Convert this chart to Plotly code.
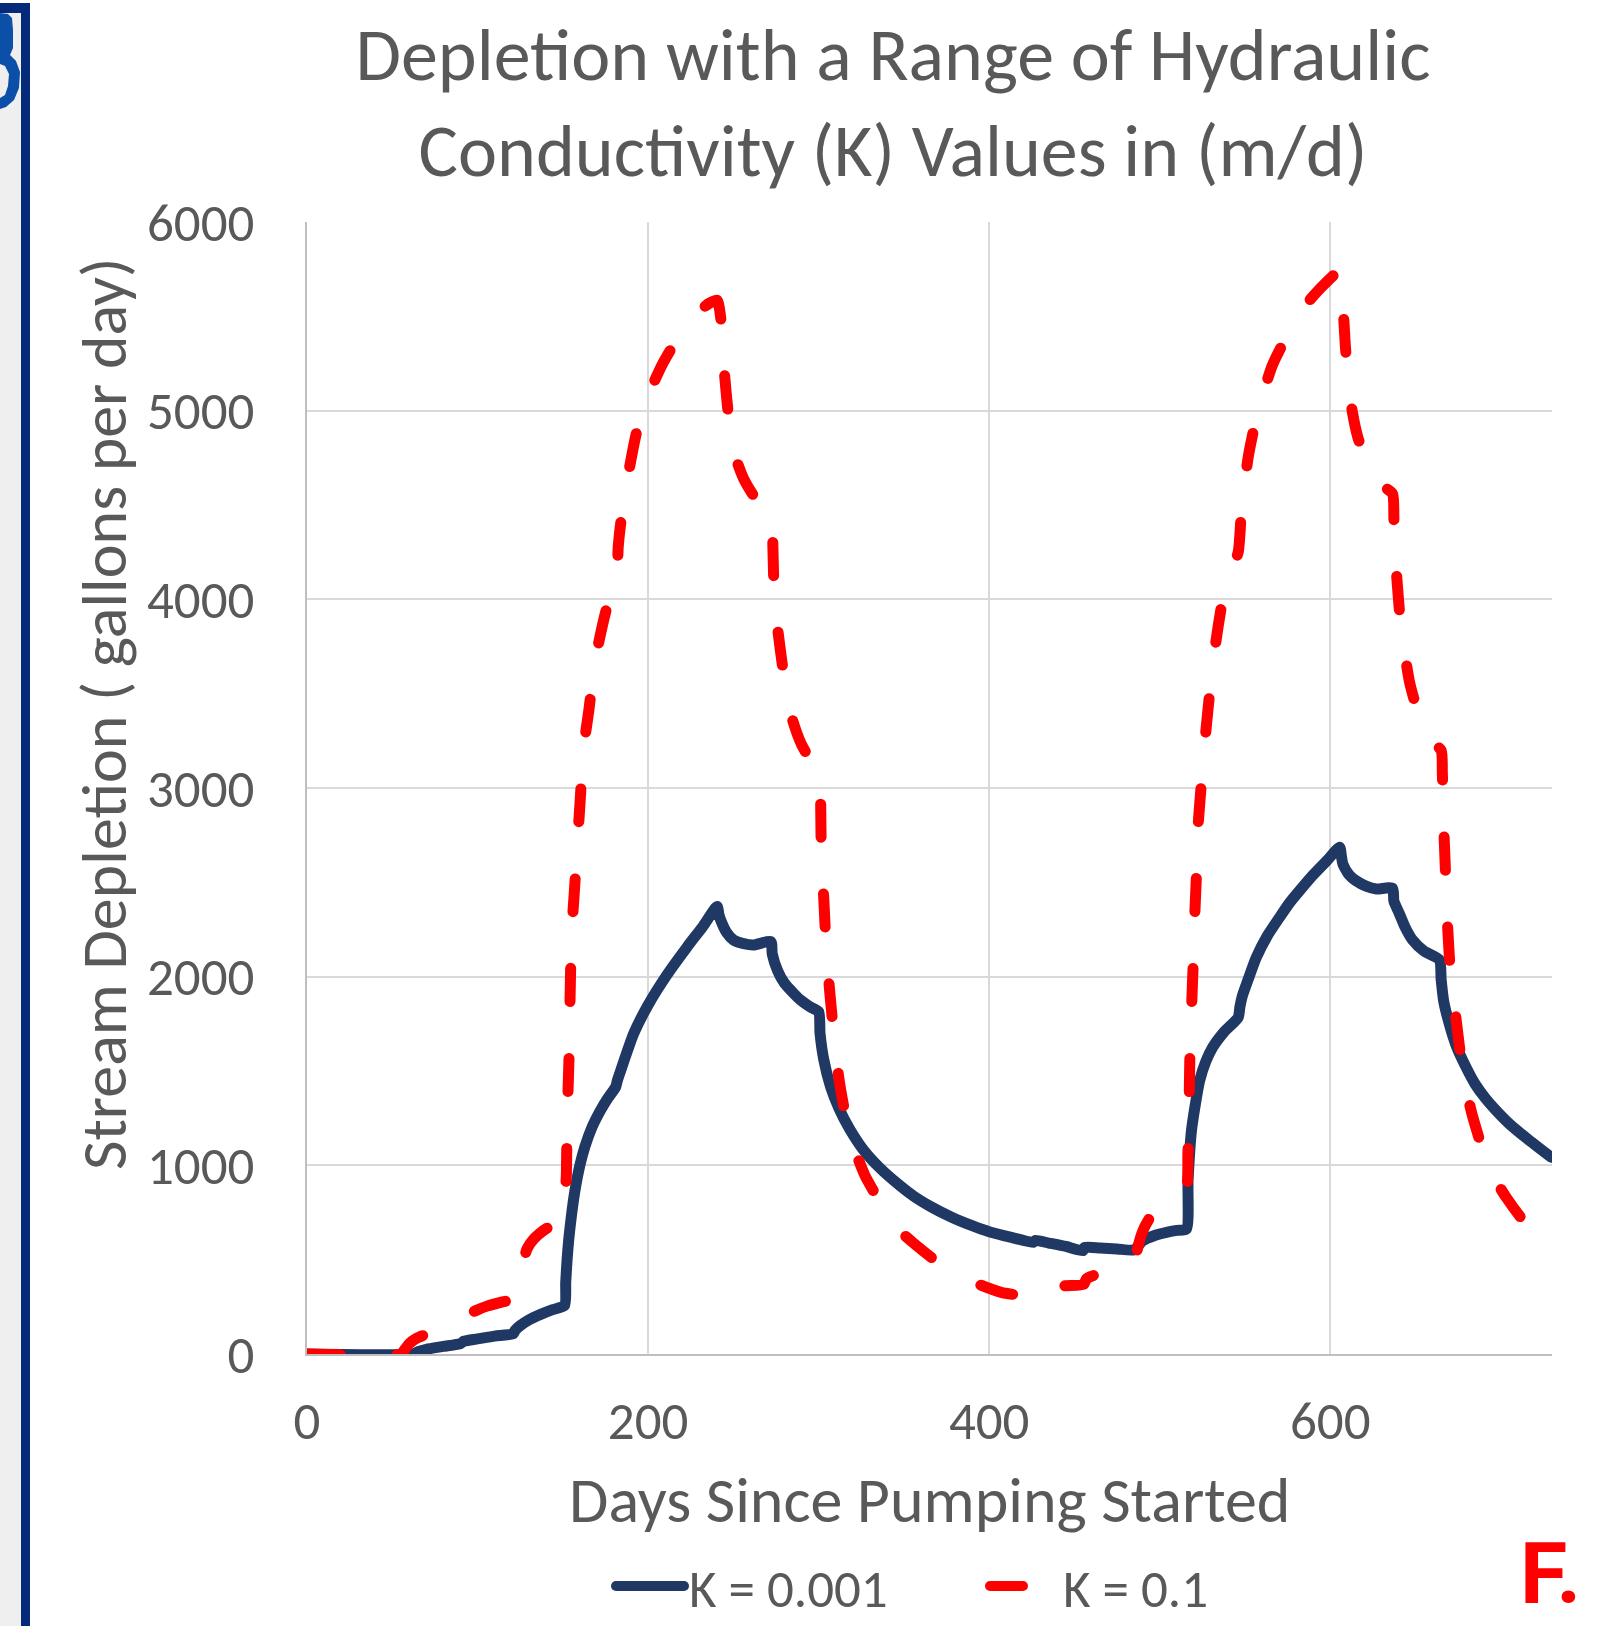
import plotly.graph_objects as go

# ---------------- data ----------------
days_k001 = [0, 62, 65, 70, 80, 90, 92, 100, 110, 121, 122, 125, 130, 137, 144, 151,
             151.7, 152.5, 153.5, 155, 157, 160, 163, 167, 172, 176, 181,
             182, 184, 191.6, 200, 211, 223, 232, 240.5,
             241.5, 242.5, 246, 250, 256, 262, 272,
             272.8, 276, 280, 285, 289.4, 295, 300,
             300.8, 303, 307, 312, 318, 326, 336, 346, 356, 366, 378, 390, 400, 413, 426,
             427, 435, 445, 455,
             456, 465, 475, 485,
             490, 497, 504, 510, 515.6,
             516.6, 518.6, 521, 523.4, 527, 531, 538, 546,
             547, 548.5, 552, 556.6, 563, 570.3, 576, 582, 590, 598, 605.5,
             606.5, 607.4, 611, 615, 621, 627, 636.5,
             637.3, 640.4, 644, 648.2, 655, 664,
             665, 666.5, 669.7, 674, 679.5, 685, 691, 697.1, 705, 716.6, 729.5]
depl_k001 = [0, 0, 12, 25, 40, 55, 68, 80, 95, 108, 125, 150, 180, 210, 235, 257,
             380, 500, 610, 730, 860, 1000, 1100, 1200, 1290, 1350, 1416,
             1450, 1504, 1699, 1850, 2009, 2159, 2265, 2372,
             2330, 2301, 2235, 2195, 2175, 2168, 2186,
             2120, 2030, 1965, 1915, 1876, 1840, 1814,
             1700, 1560, 1416, 1300, 1195, 1085, 985, 905, 835, 780, 725, 680, 648, 618, 592,
             602, 588, 570, 548,
             565, 562, 557, 552,
             600, 628, 645, 655, 662,
             919, 1184, 1330, 1449, 1550, 1625, 1710, 1784,
             1840, 1900, 1990, 2102, 2215, 2315, 2390, 2456, 2540, 2615, 2686,
             2640, 2597, 2540, 2509, 2480, 2465, 2469,
             2400, 2336, 2260, 2195, 2135, 2089,
             1985, 1870, 1752, 1630, 1522, 1430, 1355, 1292, 1220, 1133, 1043]

days_k01 = [0, 55, 57, 60, 64, 70, 76, 85, 92, 99, 106, 114, 121.5,
            122.5, 124, 126, 129, 133, 138, 143, 148, 151,
            151.5, 152.1, 152.5, 153.6, 154.6, 155.5, 156.7, 158.5, 160.2, 161.5, 163.5,
            165.4, 168.4, 171.5, 174.6, 178, 181.6,
            182.5, 184, 187.5, 193.4, 201, 208, 214.8, 222, 229.9, 236, 240.5,
            242.6, 244.1, 246.9, 250.4, 256, 263, 268, 271.9,
            272.9, 273.8, 275.8, 279.7, 284.6, 290, 297.3, 300.6,
            301.2, 301.6, 303, 304.5, 306.5, 309.4, 312.3, 318.2, 327, 335, 342, 349, 356,
            370, 385, 395, 407, 417, 425.5,
            427, 434, 445, 455.5,
            457, 460, 465, 472, 479, 484.5,
            487, 489, 491.2, 495, 500, 505, 509.4, 515.5,
            516.5, 517.2, 517.6, 518.6, 519.5, 520.5, 521.5, 522.5, 524, 526, 529, 533, 537,
            541, 546, 548, 552, 557, 566, 577, 586, 596, 605.5,
            607, 608.8, 610.9, 613, 616.2, 620, 625, 631, 636.5,
            637.3, 638.3, 640.6, 643.6, 646.5, 650, 654.5, 659.2, 665,
            665.7, 666.4, 667.8, 668.8, 670.7, 673.7, 677.6, 682.5, 687, 691.3, 697, 703,
            713, 723.5, 730]
depl_k01 = [0, 0, 20, 55, 82, 105, 125, 165, 200, 230, 255, 275, 292,
            330, 400, 460, 557, 610, 650, 680, 705, 720,
            850, 956, 1230, 1560, 2050, 2280, 2442, 2700, 2937, 3130, 3300,
            3421, 3649, 3790, 3915, 4030, 4133,
            4280, 4408, 4617, 4892, 5100, 5240, 5347, 5440, 5527, 5570, 5585,
            5490, 5271, 4996, 4778, 4640, 4535, 4495, 4474,
            4360, 4076, 3858, 3592, 3364, 3230, 3118, 3080,
            2910, 2636, 2415, 2141, 1920, 1647, 1435, 1161, 949, 820, 710, 640, 585,
            485, 407, 365, 327, 312, 305,
            338, 354, 362, 370,
            398, 412, 428, 445, 458, 470,
            560, 625, 675, 735, 790, 835, 866, 883,
            1060, 1316, 1546, 1820, 2041, 2315, 2535, 2800, 2980, 3200, 3480, 3780, 4003,
            4130, 4250, 4480, 4760, 4975, 5240, 5436, 5565, 5665, 5740,
            5622, 5347, 5132, 4990, 4857, 4760, 4660, 4600, 4560,
            4425, 4209, 3934, 3718, 3560, 3443, 3330, 3247, 3200,
            3080, 2829, 2496, 2266, 1991, 1779, 1504, 1292, 1150, 1027, 920, 832,
            710, 628, 584]

x_ticks = [0, 200, 400, 600]
x_tick_labels = ["0", "200", "400", "600"]
y_ticks = [0, 1000, 2000, 3000, 4000, 5000, 6000]
y_tick_labels = ["0", "1000", "2000", "3000", "4000", "5000", "6000"]

series_names = ["K = 0.001", "K = 0.1"]
title_text = "Depletion with a Range of Hydraulic<br>Conductivity (K) Values in (m/d)"
x_title = "Days Since Pumping Started"
y_title = "Stream Depletion ( gallons per day)"
panel_label = "F."

# ---------------- layout geometry ----------------
W, H = 1612, 1626
L, R, T, B = 307, 60, 222, 272
PW, PH = W - L - R, H - T - B

def px(xp):
    return (xp - L) / PW

def py(yp):
    return (H - B - yp) / PH

FONT = "Calibri, Carlito, Lato, 'Open Sans', sans-serif"
GREY = "#595959"
NAVY = "#203864"
RED = "#FF0000"

fig = go.Figure()
fig.add_trace(go.Scatter(x=days_k001, y=depl_k001, mode="lines", name=series_names[0],
                         line=dict(color=NAVY, width=11, shape="spline", smoothing=0.6)))
fig.add_trace(go.Scatter(x=days_k01, y=depl_k01, mode="lines", name=series_names[1],
                         line=dict(color=RED, width=11, dash="33px,57px", shape="spline", smoothing=0.6)))

axis_common = dict(showgrid=True, gridcolor="#D9D9D9", gridwidth=2,
                   showline=True, linecolor="#BFBFBF", linewidth=2,
                   zeroline=False, ticks="outside", tickcolor="rgba(0,0,0,0)",
                   tickfont=dict(size=53, color=GREY, family=FONT))

fig.update_layout(
    width=W, height=H,
    margin=dict(l=L, r=R, t=T, b=B, pad=0, autoexpand=False),
    paper_bgcolor="white", plot_bgcolor="white",
    font=dict(family=FONT, color=GREY),
    title=dict(text=title_text, x=893 / W, xanchor="center", xref="container",
               y=1 - 80 / H, yanchor="middle", yref="container",
               font=dict(size=74, color=GREY, family=FONT)),
    xaxis=dict(range=[0, 730], tickvals=x_ticks, ticktext=x_tick_labels, ticklen=19, **axis_common),
    yaxis=dict(range=[0, 6000], tickvals=y_ticks, ticktext=y_tick_labels, ticklen=40, **axis_common),
    showlegend=True,
    legend=dict(orientation="h", x=px(611), xanchor="left", y=py(1586), yanchor="middle",
                font=dict(size=53, color=GREY, family=FONT), itemwidth=68,
                entrywidth=291, bgcolor="rgba(0,0,0,0)", traceorder="normal"),
)

fig.add_annotation(text=x_title, xref="paper", yref="paper", x=px(929), y=py(1500),
                   xanchor="center", yanchor="middle", showarrow=False,
                   font=dict(size=64, color=GREY, family=FONT))
fig.add_annotation(text=y_title, xref="paper", yref="paper", x=px(104), y=py(714),
                   xanchor="center", yanchor="middle", textangle=-90, showarrow=False,
                   font=dict(size=64, color=GREY, family=FONT))
fig.add_annotation(text="<b>" + panel_label + "</b>", xref="paper", yref="paper",
                   x=px(1550), y=py(1573), xanchor="center", yanchor="middle", showarrow=False,
                   font=dict(size=86, color=RED, family="Roboto, Lato, sans-serif"))

# decorative frame fragment at the left edge of the picture
fig.add_shape(type="rect", xref="paper", yref="paper", x0=px(0), x1=px(21), y0=py(H), y1=py(13),
              fillcolor="#EFEFEF", line=dict(width=0), layer="below")
fig.add_shape(type="rect", xref="paper", yref="paper", x0=px(21), x1=px(30), y0=py(H), y1=py(3),
              fillcolor="#062A7A", line=dict(width=0))
fig.add_shape(type="rect", xref="paper", yref="paper", x0=px(0), x1=px(30), y0=py(13), y1=py(3),
              fillcolor="#062A7A", line=dict(width=0))
glyph = [(0, 13), (8, 14), (12, 18), (13, 30), (13, 48), (10, 55), (16, 61), (20, 72), (19, 88),
         (14, 100), (6, 107), (0, 109), (0, 98), (5, 95), (8, 86), (9, 74), (5, 66), (0, 64)]
path = "M " + " L ".join(f"{px(a):.5f},{py(b):.5f}" for a, b in glyph) + " Z"
fig.add_shape(type="path", xref="paper", yref="paper", path=path,
              fillcolor="#0B4FA8", line=dict(width=0))

post = """
var s=document.createElement('style');
s.textContent='html,body{margin:0;padding:0;overflow:hidden;background:#fff}'+
 ' .scatterlayer .js-line,.legendlines path{stroke-linecap:round;stroke-linejoin:round}'+
 ' .cartesianlayer .plot{clip-path:none !important}';
document.head.appendChild(s);
"""
fig.write_html("out.html", post_script=post, config={"displayModeBar": False})
